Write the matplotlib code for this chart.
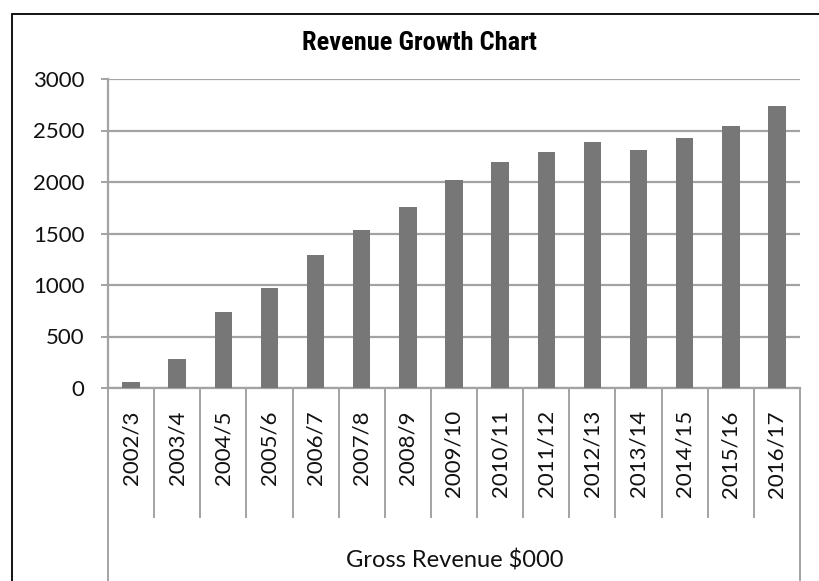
import matplotlib
matplotlib.use("Agg")
import matplotlib.pyplot as plt
from matplotlib import font_manager
from matplotlib.lines import Line2D
from matplotlib.patches import Rectangle
import matplotlib.transforms as mtransforms

categories = ["2002/3", "2003/4", "2004/5", "2005/6", "2006/7", "2007/8", "2008/9",
              "2009/10", "2010/11", "2011/12", "2012/13", "2013/14", "2014/15",
              "2015/16", "2016/17"]
revenue = [55, 285, 740, 970, 1290, 1535, 1755, 2020, 2195, 2295, 2390, 2315,
           2430, 2545, 2735]
yticks = [0, 500, 1000, 1500, 2000, 2500, 3000]
title = "Revenue Growth Chart"
group_label = "Gross Revenue $000"

names = {f.name for f in font_manager.fontManager.ttflist}
body_font = "Lato" if "Lato" in names else "DejaVu Sans"
title_font = "DejaVu Sans"
for cand in ["Liberation Sans Narrow", "DejaVu Sans Condensed", "Roboto Condensed",
             "Roboto"]:
    if cand in names:
        title_font = cand
        break

W, H = 820, 581
fig = plt.figure(figsize=(W / 100, H / 100), dpi=100)
ax = fig.add_axes([108 / W, 1 - 388 / H, (800 - 108) / W, (388 - 79) / H])

grid_c = "#a3a3a3"
ax.bar(range(len(categories)), revenue, width=0.38, color="#777777", zorder=3)
ax.set_xlim(-0.5, len(categories) - 0.5)
ax.set_ylim(0, 3000)
ax.set_yticks(yticks)
ax.set_yticklabels([str(v) for v in yticks], fontsize=16, family=body_font,
                   color="#111111")
ax.yaxis.grid(True, color=grid_c, linewidth=1.6, zorder=0)
ax.tick_params(axis="y", length=5, width=1.4, color=grid_c, pad=12)
ax.set_xticks(range(len(categories)))
ax.set_xticklabels(categories, rotation=90, fontsize=16, family=body_font,
                   va="top", ha="center", color="#111111")
ax.tick_params(axis="x", length=0, pad=16)
for s in ["top", "right"]:
    ax.spines[s].set_visible(False)
ax.spines["left"].set_color(grid_c)
ax.spines["left"].set_linewidth(1.6)
ax.spines["bottom"].set_color(grid_c)
ax.spines["bottom"].set_linewidth(1.6)

# category separators
trans = mtransforms.blended_transform_factory(ax.transData, ax.transAxes)
sep_bottom = (388 - 517) / (388 - 79)
outer_bottom = (388 - 600) / (388 - 79)
n = len(categories)
for i in range(n + 1):
    x = i - 0.5
    yb = outer_bottom if i in (0, n) else sep_bottom
    ax.add_line(Line2D([x, x], [0, yb], transform=trans, color=grid_c,
                       linewidth=1.4, clip_on=False))

fig.text(455 / W, 1 - 568 / H, group_label, ha="center", va="baseline",
         fontsize=17, family=body_font, color="#111111")
fig.text(419 / W, 1 - 43 / H, title, ha="center", va="center",
         fontsize=19, fontweight="bold", family=title_font)

fig.add_artist(Rectangle((12 / W, -0.1), 1.0, 1 - 14 / H + 0.1,
                         transform=fig.transFigure, fill=False,
                         edgecolor="black", linewidth=1.3))

fig.savefig("out.png", dpi=100)
